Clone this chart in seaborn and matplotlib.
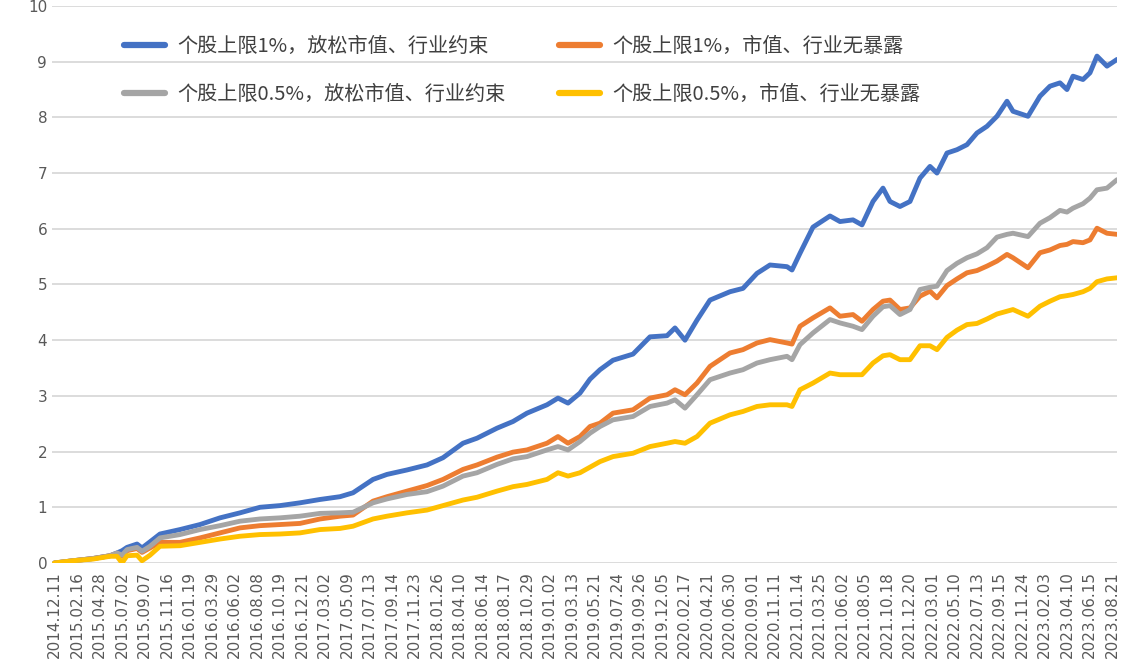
import matplotlib
matplotlib.use("Agg")
import matplotlib.pyplot as plt
import pandas as pd
import seaborn as sns

# trading-day index of each sampled point (45 trading days between labels)
day = [0, 37, 77, 111, 125, 135, 145, 165, 175, 191, 211, 251, 291, 331, 371, 411, 451, 491,
       531, 571, 597, 637, 665, 705, 745, 777, 817, 845, 885, 917, 945, 985, 1007, 1027, 1051,
       1071, 1091, 1117, 1157, 1191, 1225, 1241, 1261, 1285, 1311, 1351, 1377, 1405, 1431,
       1465, 1475, 1491, 1517, 1551, 1571, 1597, 1615, 1637, 1657, 1671, 1691, 1711, 1731,
       1751, 1765, 1785, 1805, 1825, 1845, 1865, 1885, 1905, 1917, 1947, 1971, 1991, 2011,
       2025, 2037, 2057, 2071, 2085, 2105, 2125]

cap1_relaxed = [0, 0.04, 0.08, 0.13, 0.18, 0.22, 0.28, 0.34, 0.27, 0.38, 0.52, 0.60, 0.69, 0.81,
                0.90, 1.00, 1.03, 1.08, 1.14, 1.19, 1.26, 1.50, 1.59, 1.67, 1.76, 1.89, 2.15,
                2.24, 2.42, 2.54, 2.69, 2.84, 2.96, 2.87, 3.05, 3.30, 3.47, 3.64, 3.75, 4.06,
                4.08, 4.22, 4.00, 4.36, 4.72, 4.87, 4.93, 5.20, 5.35, 5.32, 5.26, 5.56, 6.03,
                6.23, 6.13, 6.16, 6.07, 6.49, 6.73, 6.49, 6.40, 6.49, 6.91, 7.12, 7.00, 7.36,
                7.42, 7.51, 7.72, 7.84, 8.02, 8.29, 8.11, 8.02, 8.38, 8.56, 8.62, 8.50, 8.74,
                8.68, 8.80, 9.10, 8.92, 9.04]

cap1_neutral = [0, 0.04, 0.08, 0.13, 0.17, 0.12, 0.22, 0.26, 0.19, 0.27, 0.37, 0.37, 0.45, 0.54,
                0.63, 0.67, 0.69, 0.71, 0.79, 0.84, 0.86, 1.11, 1.19, 1.29, 1.39, 1.50, 1.68,
                1.76, 1.90, 1.99, 2.03, 2.15, 2.27, 2.15, 2.27, 2.45, 2.51, 2.69, 2.75, 2.96,
                3.02, 3.11, 3.02, 3.23, 3.53, 3.77, 3.83, 3.95, 4.01, 3.95, 3.93, 4.25, 4.40,
                4.58, 4.43, 4.46, 4.34, 4.55, 4.70, 4.72, 4.55, 4.58, 4.79, 4.88, 4.76, 4.98,
                5.10, 5.21, 5.25, 5.33, 5.42, 5.54, 5.48, 5.30, 5.57, 5.62, 5.70, 5.72, 5.77,
                5.75, 5.80, 6.01, 5.92, 5.90]

cap05_relaxed = [0, 0.04, 0.08, 0.13, 0.18, 0.14, 0.24, 0.28, 0.21, 0.30, 0.45, 0.51, 0.60, 0.67,
                 0.75, 0.79, 0.81, 0.84, 0.89, 0.90, 0.91, 1.08, 1.15, 1.23, 1.28, 1.38, 1.56,
                 1.62, 1.77, 1.87, 1.91, 2.03, 2.09, 2.03, 2.18, 2.33, 2.45, 2.57, 2.63, 2.81,
                 2.87, 2.93, 2.78, 3.02, 3.29, 3.41, 3.47, 3.59, 3.65, 3.71, 3.65, 3.92, 4.13,
                 4.37, 4.31, 4.25, 4.19, 4.43, 4.60, 4.62, 4.46, 4.55, 4.91, 4.95, 4.97, 5.25,
                 5.38, 5.48, 5.55, 5.66, 5.85, 5.90, 5.92, 5.86, 6.10, 6.20, 6.33, 6.30, 6.37,
                 6.45, 6.55, 6.70, 6.73, 6.88]

cap05_neutral = [0, 0.04, 0.07, 0.12, 0.12, 0.0, 0.13, 0.14, 0.04, 0.14, 0.30, 0.31, 0.37, 0.43,
                 0.48, 0.51, 0.52, 0.54, 0.60, 0.62, 0.66, 0.79, 0.84, 0.90, 0.95, 1.03, 1.13,
                 1.18, 1.29, 1.37, 1.41, 1.50, 1.62, 1.56, 1.62, 1.72, 1.82, 1.91, 1.97, 2.09,
                 2.15, 2.18, 2.15, 2.27, 2.51, 2.66, 2.72, 2.81, 2.84, 2.84, 2.81, 3.11, 3.23,
                 3.41, 3.38, 3.38, 3.38, 3.59, 3.72, 3.74, 3.65, 3.65, 3.90, 3.90, 3.83, 4.05,
                 4.18, 4.28, 4.30, 4.38, 4.47, 4.52, 4.55, 4.43, 4.61, 4.70, 4.78, 4.80, 4.82,
                 4.87, 4.93, 5.05, 5.10, 5.12]

series_names = ["个股上限1%，放松市值、行业约束", "个股上限1%，市值、行业无暴露",
                "个股上限0.5%，放松市值、行业约束", "个股上限0.5%，市值、行业无暴露"]
colors = ["#4472C4", "#ED7D31", "#A5A5A5", "#FFC000"]

tick_labels = ["2014.12.11", "2015.02.16", "2015.04.28", "2015.07.02", "2015.09.07",
               "2015.11.16", "2016.01.19", "2016.03.29", "2016.06.02", "2016.08.08",
               "2016.10.19", "2016.12.21", "2017.03.02", "2017.05.09", "2017.07.13",
               "2017.09.14", "2017.11.23", "2018.01.26", "2018.04.10", "2018.06.14",
               "2018.08.17", "2018.10.29", "2019.01.02", "2019.03.13", "2019.05.21",
               "2019.07.24", "2019.09.26", "2019.12.05", "2020.02.17", "2020.04.21",
               "2020.06.30", "2020.09.01", "2020.11.11", "2021.01.14", "2021.03.25",
               "2021.06.02", "2021.08.05", "2021.10.18", "2021.12.20", "2022.03.01",
               "2022.05.10", "2022.07.13", "2022.09.15", "2022.11.24", "2023.02.03",
               "2023.04.10", "2023.06.15", "2023.08.21"]
label_step = 45

sns.set_theme(style="white")
plt.rcParams['font.family'] = ['DejaVu Sans']

fig = plt.figure(figsize=(11.31, 6.66), dpi=100)
ax = fig.add_axes([0.046, 0.1547, 0.9416, 0.8363])

all_values = [cap1_relaxed, cap1_neutral, cap05_relaxed, cap05_neutral]
for name, values, color in zip(series_names, all_values, colors):
    df = pd.DataFrame({"day": day, "value": values})
    sns.lineplot(data=df, x="day", y="value", ax=ax, color=color, linewidth=3.5,
                 label=name, sort=False)

ax.set_xlim(-5, 2125)
ax.set_ylim(0, 10)
ax.set_yticks(range(0, 11))
ax.set_xticks([i * label_step for i in range(len(tick_labels))])
ax.set_xticklabels(tick_labels, rotation=90)
ax.tick_params(axis="both", length=0, labelsize=11, colors="#595959")
ax.tick_params(axis="x", pad=6)
ax.grid(axis="y", color="#D9D9D9", linewidth=1.3)
ax.grid(axis="x", visible=False)
ax.set_axisbelow(True)
for s in ax.spines.values():
    s.set_visible(False)
ax.set_xlabel("")
ax.set_ylabel("")

# legend fills column-wise: reorder so rows read blue/orange, gray/yellow
handles, labels = ax.get_legend_handles_labels()
order = [0, 2, 1, 3]
leg = ax.legend([handles[i] for i in order], [labels[i] for i in order],
                loc="upper left", bbox_to_anchor=(0.068, 0.946), ncol=2, frameon=False,
                prop={"family": ["Noto Sans CJK SC", "DejaVu Sans"], "size": 14.5},
                handlelength=2.0, handletextpad=0.65, columnspacing=2.65,
                labelspacing=1.35, borderpad=0, borderaxespad=0)
for t in leg.get_texts():
    t.set_color("#404040")
for h in leg.get_lines():
    h.set_linewidth(4.5)

fig.savefig("out.png", dpi=100)
